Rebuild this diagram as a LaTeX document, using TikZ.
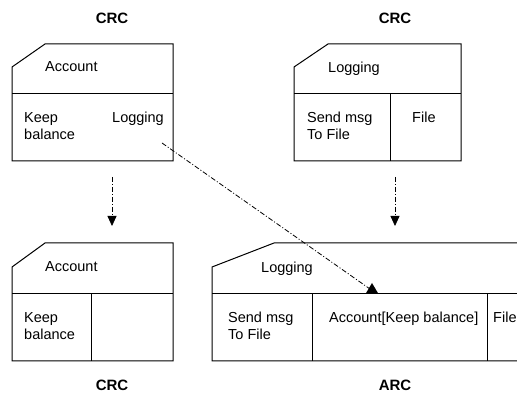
\documentclass[tikz,border=0pt]{standalone}
\usepackage{fontspec}
\setmainfont{Liberation Sans}
\usetikzlibrary{arrows.meta}

\begin{document}
\begin{tikzpicture}[x=1pt,y=-1pt,
    card/.style={line width=1pt},
    txt/.style={font=\fontsize{14.5}{17}\selectfont, inner sep=0pt, anchor=base west, align=left},
    kind/.style={font=\fontsize{15}{17}\selectfont\bfseries, inner sep=0pt},
    dashdot/.style={line width=0.8pt, dash pattern=on 5pt off 2pt on 1pt off 2pt},
    flow/.style={dashdot, -{Triangle[length=10pt,width=9pt]}}]
      \useasboundingbox (0,0) rectangle (517,395);

      % Account card (top left)
      \draw[card] (12,67) -- (45,44) -- (173,44) -- (173,161) -- (12,161) -- cycle;
      \draw[card] (12,94) -- (173,94);
      \node[txt] (acc1) at (45,72) {Account};
      \node[txt] (keep1) at (24,140) {Keep\\balance};
      \node[txt] (uses1) at (112,123) {Logging};
      \node[kind] (crc1) at (112,18) {CRC};

      % Logging card (top right)
      \draw[card] (294,67) -- (328,44) -- (461,44) -- (461,161) -- (294,161) -- cycle;
      \draw[card] (294,94) -- (461,94);
      \draw[card] (390,94) -- (390,161);
      \node[txt] (log2) at (328,73) {Logging};
      \node[txt] (send2) at (307,140) {Send msg\\To File};
      \node[txt] (file2) at (412,123) {File};
      \node[kind] (crc2) at (395,18) {CRC};

      % Account card (bottom left)
      \draw[card] (12,267) -- (45,243) -- (173,243) -- (173,361) -- (12,361) -- cycle;
      \draw[card] (12,294) -- (173,294);
      \draw[card] (91,294) -- (91,361);
      \node[txt] (acc3) at (45,272) {Account};
      \node[txt] (keep3) at (24,340) {Keep\\balance};
      \node[kind] (crc3) at (112,385) {CRC};

      % Logging aspect (bottom right), runs off the edge
      \draw[card] (517,243) -- (274,243) -- (212,267) -- (212,361) -- (517,361);
      \draw[card] (212,294) -- (517,294);
      \draw[card] (312,294) -- (312,361);
      \draw[card] (487,294) -- (487,361);
      \node[txt] (log4) at (261,273) {Logging};
      \node[txt] (send4) at (228,340) {Send msg\\To File};
      \node[txt] (accb4) at (329,323) {Account[Keep balance]};
      \node[txt] (file4) at (493,323) {File};
      \node[kind] (arc4) at (395,385) {ARC};

      % Ends of the arrows
      \coordinate (a1) at (112,177);
      \coordinate (a3) at (112,226);
      \coordinate (b1) at (395,177);
      \coordinate (b4) at (395,226);
      \coordinate (c1) at (162,143);
      \coordinate (c4) at (370,289);

      \draw[flow] (a1) -- (a3);
      \draw[flow] (b1) -- (b4);
      \draw[dashdot] (c1) -- (c4);
      % upright head sitting on the divider
      \fill (365.5,294) -- (372,283) -- (378.5,294) -- cycle;
\end{tikzpicture}
\end{document}
